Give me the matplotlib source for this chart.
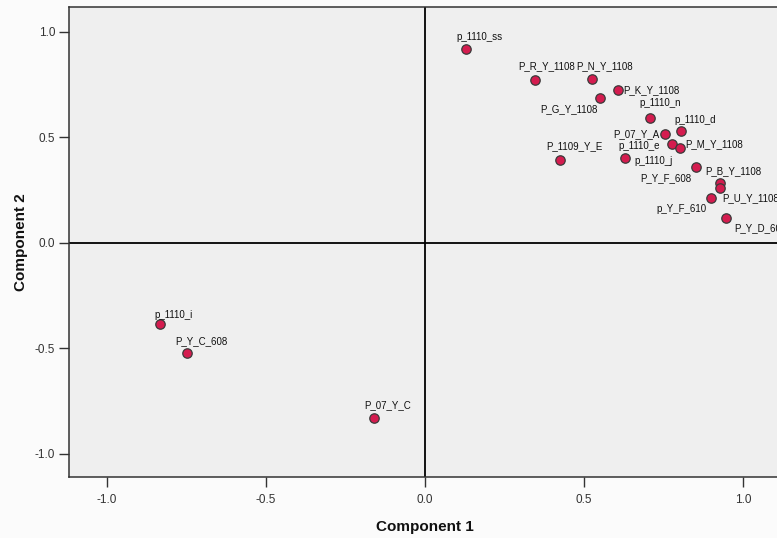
import matplotlib
matplotlib.use("Agg")
import matplotlib.pyplot as plt

labels = ["p_1110_ss", "P_R_Y_1108", "P_N_Y_1108", "P_K_Y_1108", "P_G_Y_1108",
          "p_1110_n", "p_1110_d", "P_07_Y_A", "p_1110_e", "P_M_Y_1108",
          "P_1109_Y_E", "p_1110_j", "P_B_Y_1108", "P_Y_F_608", "p_Y_F_610",
          "P_U_Y_1108", "P_Y_D_608", "p_1110_i", "P_Y_C_608", "P_07_Y_C"]
comp1 = [0.129, 0.346, 0.525, 0.607, 0.550,
         0.708, 0.805, 0.755, 0.777, 0.802,
         0.425, 0.629, 0.852, 0.928, 0.928,
         0.899, 0.947, -0.833, -0.748, -0.160]
comp2 = [0.919, 0.773, 0.777, 0.725, 0.687,
         0.592, 0.531, 0.517, 0.469, 0.450,
         0.393, 0.403, 0.360, 0.284, 0.261,
         0.213, 0.118, -0.384, -0.521, -0.829]

# label offsets (pixels) relative to each point
offsets = [(13, 12), (12, 14), (13, 13), (33, 0), (-31, -11),
           (10, 15), (14, 11), (-29, 0), (-33, -2), (34, 4),
           (14, 14), (29, -3), (37, -4), (-54, 5), (-39, -21),
           (40, 0), (34, -10), (13, 9), (14, 12), (13, 13)]

ticks = [-1.0, -0.5, 0.0, 0.5, 1.0]
tick_labels = ["-1.0", "-0.5", "0.0", "0.5", "1.0"]

plt.rcParams['font.family'] = ['Liberation Sans', 'DejaVu Sans']

fig = plt.figure(figsize=(7.77, 5.38), dpi=100, facecolor='#fbfbfb')
ax = fig.add_axes([69/777, 61/538, 712/777, 470/538])
ax.set_facecolor('#efefef')

ax.set_xlim(-1.12, 1.12)
ax.set_ylim(-1.109, 1.118)

ax.axhline(0, color='black', lw=1.3, zorder=1)
ax.axvline(0, color='black', lw=1.3, zorder=1)

ax.scatter(comp1, comp2, s=46, c='#d41c4f', edgecolors='#3a3a3a', linewidths=0.9, zorder=3)

for lab, x, y, (dx, dy) in zip(labels, comp1, comp2, offsets):
    ax.annotate(lab, (x, y), xytext=(dx, dy), textcoords='offset pixels',
                ha='center', va='center', fontsize=7, color='#111111', zorder=4,
                annotation_clip=False)

ax.set_xticks(ticks)
ax.set_xticklabels(tick_labels)
ax.set_yticks(ticks)
ax.set_yticklabels(tick_labels)
ax.tick_params(axis='both', direction='out', length=7, width=1, color='#333333',
               labelsize=8.5, labelcolor='#333333', pad=3)
ax.tick_params(axis='x', pad=5)

for s in ax.spines.values():
    s.set_color('#333333')
    s.set_linewidth(1.1)

ax.set_xlabel('Component 1', fontsize=11, fontweight='bold', color='#111111', labelpad=10)
ax.set_ylabel('Component 2', fontsize=11, fontweight='bold', color='#111111', labelpad=5)

fig.savefig('out.png', dpi=100, facecolor=fig.get_facecolor())
